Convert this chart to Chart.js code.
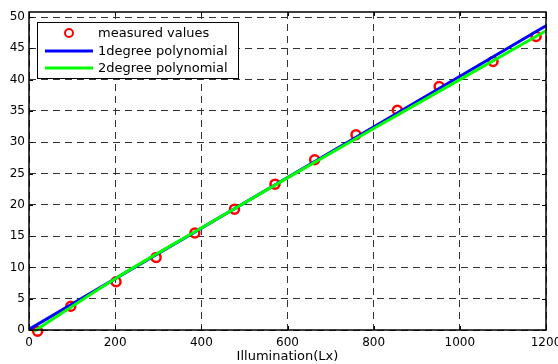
<!DOCTYPE html>
<html>
<head>
<meta charset="utf-8">
<script src="https://cdn.jsdelivr.net/npm/chart.js@4"></script>
<style>
  html, body { margin: 0; padding: 0; background: #fff; overflow: hidden; }
  #wrap { width: 560px; height: 364px; }
</style>
</head>
<body>
<div id="wrap"><canvas id="myChart" width="560" height="364"></canvas></div>
<script>
// measured points
const illumination = [20, 97, 202, 295, 385, 477, 571, 663, 759, 855, 952, 1077, 1177];
const measured = [-0.2, 3.8, 7.7, 11.6, 15.5, 19.3, 23.3, 27.2, 31.2, 35.1, 38.9, 42.9, 46.9];

// fitted curves
const fit1X = [0, 1200];
const fit1Y = [0.1, 48.6];
const fit2X = [12, 200, 400, 600, 800, 1000, 1200];
const fit2Y = [-0.2, 8.2, 16.3, 24.3, 32.2, 40.0, 47.8];

const seriesNames = ['measured values', '1degree polynomial', '2degree polynomial'];
const xTicks = [0, 200, 400, 600, 800, 1000, 1200];
const yTicks = [0, 5, 10, 15, 20, 25, 30, 35, 40, 45, 50];

function toPoints(xs, ys) {
  let pts = [];
  for (let i = 0; i < xs.length; i++) {
    pts.push({ x: xs[i], y: ys[i] });
  }
  return pts;
}

// box, inward ticks and the legend, drawn like the original figure
const framePlugin = {
  id: 'frame',
  afterDatasetsDraw(chart) {
    const ctx = chart.ctx;
    const a = chart.chartArea;
    const xs = chart.scales.x, ys = chart.scales.y;
    ctx.save();
    ctx.strokeStyle = '#000';
    ctx.lineWidth = 1;
    ctx.beginPath();
    xTicks.forEach(v => {
      const px = Math.round(xs.getPixelForValue(v)) + 0.5;
      ctx.moveTo(px, a.bottom); ctx.lineTo(px, a.bottom - 4);
      ctx.moveTo(px, a.top); ctx.lineTo(px, a.top + 4);
    });
    yTicks.forEach(v => {
      const py = Math.round(ys.getPixelForValue(v)) + 0.5;
      ctx.moveTo(a.left, py); ctx.lineTo(a.left + 4, py);
      ctx.moveTo(a.right, py); ctx.lineTo(a.right - 4, py);
    });
    ctx.stroke();
    ctx.lineWidth = 1.5;
    ctx.strokeRect(a.left, a.top, a.right - a.left, a.bottom - a.top);

    // legend
    const lx = 37.5, ly = 22.5, lw = 201, lh = 56;
    ctx.fillStyle = '#fff';
    ctx.fillRect(lx, ly, lw, lh);
    ctx.lineWidth = 1;
    ctx.strokeStyle = '#000';
    ctx.strokeRect(lx, ly, lw, lh);
    const rows = [33, 51, 68];
    ctx.font = '13px "DejaVu Sans"';
    ctx.textBaseline = 'middle';
    chart.data.datasets.forEach((ds, i) => {
      const y = rows[i];
      if (i === 0) {
        ctx.beginPath();
        ctx.arc(69, y, 4, 0, Math.PI * 2);
        ctx.strokeStyle = ds.borderColor;
        ctx.lineWidth = 2;
        ctx.stroke();
      } else {
        ctx.beginPath();
        ctx.moveTo(45, y); ctx.lineTo(93, y);
        ctx.strokeStyle = ds.borderColor;
        ctx.lineWidth = 3;
        ctx.stroke();
      }
      ctx.fillStyle = '#000';
      ctx.fillText(ds.label, 98, y + 1);
    });
    ctx.restore();
  }
};

const ctx = document.getElementById('myChart');

new Chart(ctx, {
  type: 'scatter',
  data: {
    datasets: [{
      label: seriesNames[0],
      data: toPoints(illumination, measured),
      borderColor: '#ff0000',
      backgroundColor: 'rgba(0,0,0,0)',
      pointRadius: 4.5,
      pointBorderWidth: 2.5,
      showLine: false,
      clip: false,
      order: 3
    }, {
      label: seriesNames[1],
      data: toPoints(fit1X, fit1Y),
      borderColor: '#0000ff',
      borderWidth: 3,
      pointRadius: 0,
      showLine: true,
      clip: false,
      order: 2
    }, {
      label: seriesNames[2],
      data: toPoints(fit2X, fit2Y),
      borderColor: '#00ff00',
      borderWidth: 3,
      pointRadius: 0,
      showLine: true,
      cubicInterpolationMode: 'monotone',
      clip: false,
      order: 1
    }]
  },
  plugins: [framePlugin],
  options: {
    responsive: false,
    animation: false,
    layout: { padding: { top: 12, right: 14, left: 0, bottom: 0 } },
    plugins: {
      legend: { display: false },
      tooltip: { enabled: false }
    },
    scales: {
      x: {
        type: 'linear',
        min: 0,
        max: 1200,
        afterBuildTicks: (scale) => { scale.ticks = xTicks.map(v => ({ value: v })); },
        afterFit: (scale) => { scale.height = 34; scale.paddingLeft = 0; scale.paddingRight = 0; },
        ticks: { color: '#000', padding: 6, maxRotation: 0, autoSkip: false, callback: (v) => String(v), font: { family: 'DejaVu Sans', size: 12 } },
        grid: { color: '#333', lineWidth: 1, drawTicks: false },
        border: { display: false, dash: [7, 5] },
        title: { display: true, text: 'Illumination(Lx)', color: '#000', font: { family: 'DejaVu Sans', size: 13 }, padding: 0 }
      },
      y: {
        type: 'linear',
        min: 0,
        max: 50.8,
        afterBuildTicks: (scale) => { scale.ticks = yTicks.map(v => ({ value: v })); },
        afterFit: (scale) => { scale.width = 29; },
        ticks: { color: '#000', padding: 4, autoSkip: false, callback: (v) => String(v), font: { family: 'DejaVu Sans', size: 12 } },
        grid: { color: '#333', lineWidth: 1, drawTicks: false },
        border: { display: false, dash: [7, 5] }
      }
    }
  }
});
</script>
</body>
</html>
